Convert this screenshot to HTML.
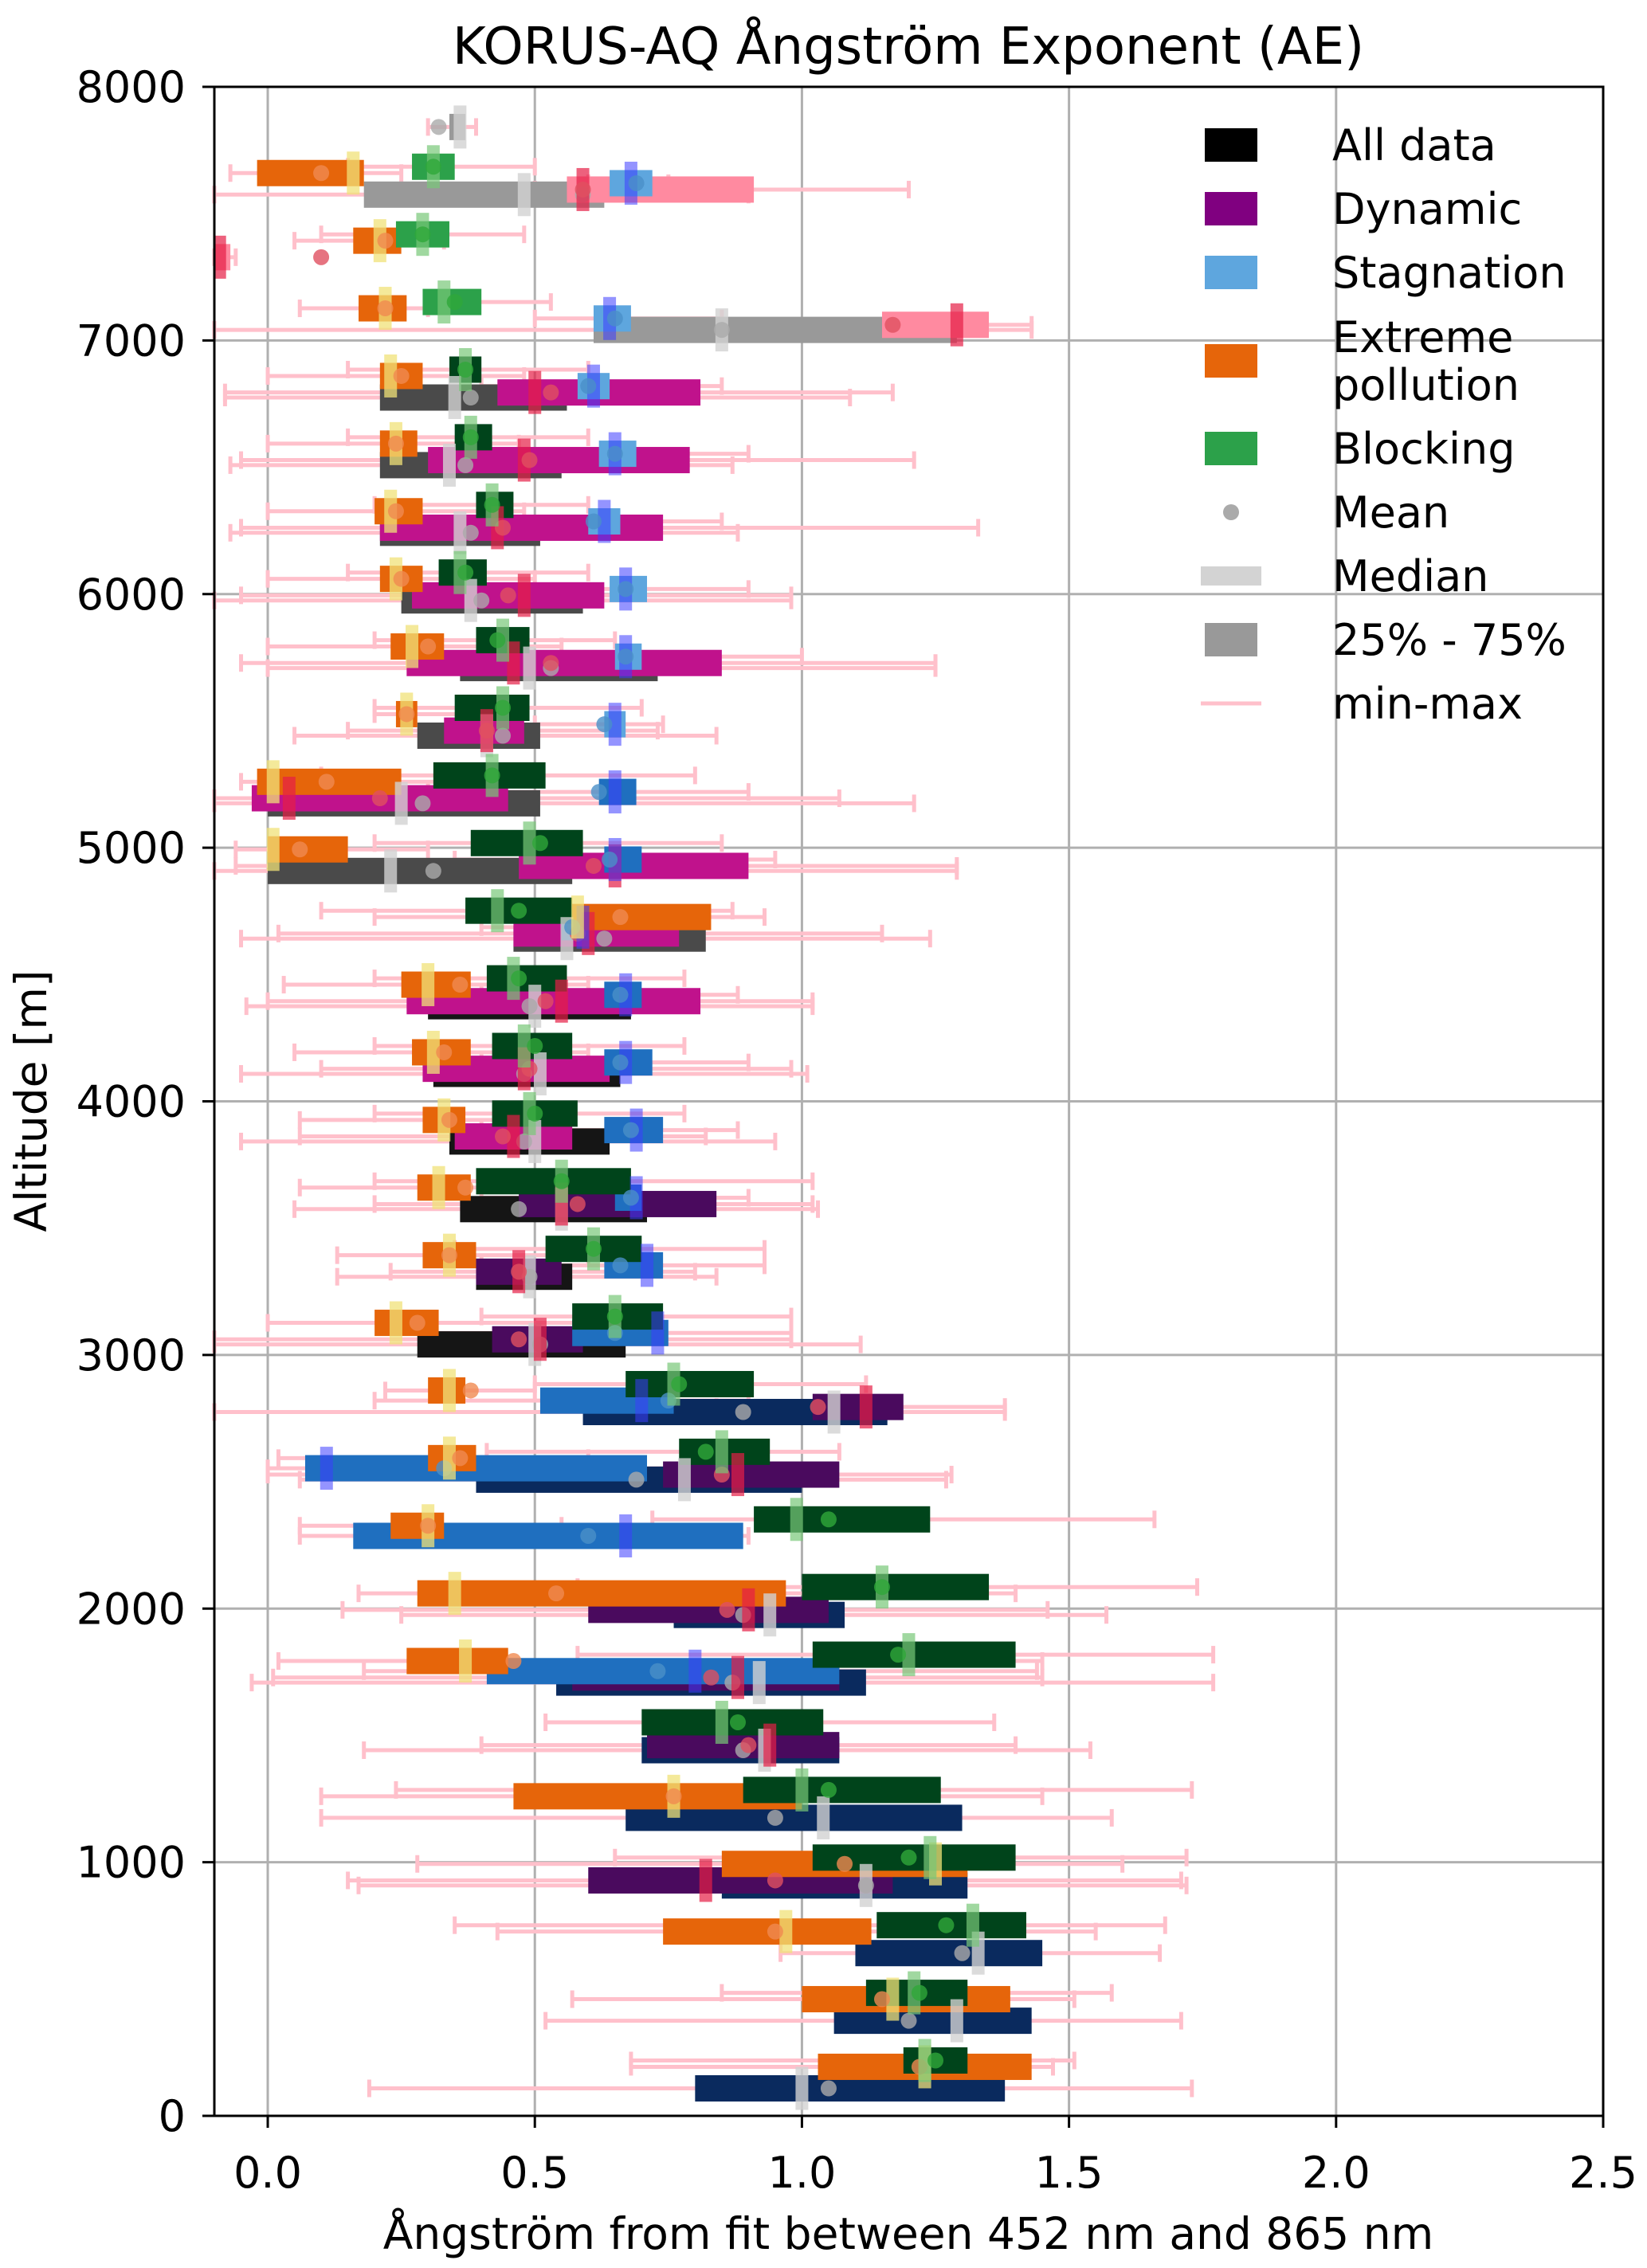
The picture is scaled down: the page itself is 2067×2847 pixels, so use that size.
<!DOCTYPE html>
<html><head><meta charset="utf-8"><style>
html,body{margin:0;padding:0;background:#fff;}
svg{display:block;font-family:"DejaVu Sans","Liberation Sans",sans-serif;}
</style></head><body>
<svg id="chart" width="2067" height="2847" viewBox="0 0 2067 2847" xmlns="http://www.w3.org/2000/svg">
<rect width="2067" height="2847" fill="#fff"/>
<text x="1140" y="80" font-size="64" text-anchor="middle">KORUS-AQ Ångström Exponent (AE)</text>
<g id="grid"></g>
<g id="marks"></g>
<g id="axes"></g>
<text x="1140" y="2823" font-size="55" text-anchor="middle">Ångström from fit between 452 nm and 865 nm</text>
<text transform="translate(58,1382) rotate(-90)" font-size="55" text-anchor="middle">Altitude [m]</text>
<g id="legend"></g>
</svg>
<script>
// Each row: [binIndex, q1, q3, median, mean, min, max]
const allData = [
[0,0.80,1.38,1.00,1.05,0.19,1.73],[1,1.06,1.43,1.29,1.20,0.52,1.71],[2,1.10,1.45,1.33,1.30,0.96,1.67],
[3,0.85,1.31,1.12,1.12,0.17,1.72],[4,0.67,1.30,1.04,0.95,0.10,1.58],[5,0.70,1.07,0.93,0.89,0.18,1.54],
[6,0.54,1.12,0.92,0.87,-0.03,1.77],[7,0.76,1.08,0.94,0.89,0.25,1.57],[9,0.39,1.00,0.78,0.69,0.06,1.27],
[10,0.59,1.16,1.06,0.89,-0.1,1.38],[11,0.28,0.67,0.50,0.51,-0.1,1.11],[12,0.39,0.57,0.49,0.49,0.13,0.84],
[13,0.36,0.71,0.55,0.47,0.05,1.03],[14,0.34,0.64,0.50,0.48,-0.05,0.95],[15,0.31,0.66,0.51,0.48,-0.05,1.01],
[16,0.30,0.68,0.50,0.49,-0.04,1.02],[17,0.46,0.82,0.56,0.63,-0.05,1.24],[18,0.00,0.57,0.23,0.31,-0.1,1.29],
[19,0.00,0.51,0.25,0.29,-0.1,1.21],[20,0.28,0.51,0.41,0.44,0.05,0.84],[21,0.36,0.73,0.49,0.53,0.00,1.25],
[22,0.25,0.59,0.38,0.40,-0.1,0.98],[23,0.21,0.51,0.36,0.38,-0.07,0.88],[24,0.21,0.55,0.34,0.37,-0.07,0.87],
[25,0.21,0.56,0.35,0.38,-0.08,1.09],[26,0.61,1.29,0.85,0.85,-0.1,1.43],[28,0.18,0.63,0.48,0.59,-0.1,0.90],
[29,0.34,0.37,0.36,0.32,0.30,0.39]];
const dynamicData = [
[3,0.60,1.17,0.82,0.95,0.15,1.71],[5,0.71,1.07,0.94,0.90,0.40,1.40],[6,0.57,1.07,0.88,0.83,0.01,1.45],
[7,0.60,1.05,0.90,0.86,0.14,1.46],[9,0.74,1.07,0.88,0.85,0.00,1.28],[10,1.02,1.19,1.12,1.03,0.84,1.38],
[11,0.42,0.59,0.51,0.47,-0.1,0.98],[12,0.39,0.55,0.47,0.47,0.23,0.80],[13,0.47,0.84,0.55,0.58,0.20,1.02],
[14,0.35,0.57,0.46,0.44,0.06,0.82],[15,0.29,0.64,0.48,0.49,0.10,0.98],[16,0.26,0.81,0.55,0.52,0.00,1.02],
[17,0.46,0.77,0.60,0.58,0.02,1.15],[18,0.47,0.90,0.65,0.61,-0.06,1.29],[19,-0.03,0.45,0.04,0.21,-0.1,1.07],
[20,0.33,0.48,0.41,0.41,0.15,0.73],[21,0.26,0.85,0.46,0.53,-0.05,1.25],[22,0.27,0.63,0.48,0.45,-0.05,0.98],
[23,0.21,0.74,0.43,0.44,-0.05,1.33],[24,0.30,0.79,0.48,0.49,-0.05,1.21],[25,0.43,0.81,0.50,0.53,-0.08,1.17],
[26,1.15,1.35,1.29,1.17,0.85,1.43],[27,-0.1,-0.07,-0.09,0.10,-0.1,-0.06],[28,0.56,0.91,0.59,0.59,0.50,1.20]];
const stagnationData = [
[6,0.41,1.07,0.80,0.73,0.18,1.44],[8,0.16,0.89,0.67,0.60,0.06,0.90],[9,0.07,0.71,0.11,0.33,0.00,0.90],
[10,0.51,0.76,0.70,0.75,0.20,0.90],[11,0.57,0.75,0.73,0.65,0.30,0.98],[12,0.63,0.74,0.71,0.66,0.40,0.93],
[13,0.65,0.70,0.69,0.68,0.40,0.90],[14,0.63,0.74,0.69,0.68,0.40,0.88],[15,0.63,0.72,0.67,0.66,0.40,0.90],
[16,0.63,0.70,0.67,0.66,0.40,0.88],[17,0.55,0.60,0.59,0.57,0.40,0.70],[18,0.63,0.70,0.65,0.64,0.35,0.95],
[19,0.62,0.69,0.65,0.62,0.30,0.90],[20,0.63,0.67,0.65,0.63,0.50,0.74],[21,0.65,0.70,0.67,0.67,0.40,1.00],
[22,0.64,0.71,0.67,0.67,0.40,0.90],[23,0.60,0.66,0.63,0.61,0.40,0.85],[24,0.62,0.69,0.65,0.65,0.40,0.90],
[25,0.58,0.64,0.61,0.60,0.40,0.85],[26,0.61,0.68,0.64,0.65,0.50,0.85],[28,0.64,0.72,0.68,0.69,0.60,0.75]];
const pollutionData = [
[0,1.03,1.43,1.23,1.22,0.68,1.47],[1,1.00,1.39,1.17,1.15,0.57,1.51],[2,0.74,1.13,0.97,0.95,0.43,1.55],
[3,0.85,1.31,1.25,1.08,0.28,1.60],[4,0.46,1.00,0.76,0.76,0.10,1.45],[6,0.26,0.45,0.37,0.46,0.02,1.45],
[7,0.28,0.97,0.35,0.54,0.17,1.40],[8,0.23,0.33,0.30,0.30,0.06,0.55],[9,0.30,0.39,0.34,0.36,0.02,0.60],
[10,0.30,0.37,0.34,0.38,0.22,0.50],[11,0.20,0.32,0.24,0.28,0.00,0.60],[12,0.29,0.39,0.34,0.34,0.13,0.60],
[13,0.28,0.38,0.32,0.37,0.06,0.60],[14,0.29,0.37,0.33,0.34,0.06,0.55],[15,0.27,0.38,0.31,0.33,0.05,0.60],
[16,0.25,0.38,0.30,0.36,0.03,0.60],[17,0.56,0.83,0.58,0.66,0.20,0.93],[18,0.00,0.15,0.01,0.06,-0.06,0.30],
[19,-0.02,0.25,0.01,0.11,-0.05,0.35],[20,0.24,0.28,0.26,0.26,0.20,0.38],[21,0.23,0.33,0.27,0.30,0.00,0.55],
[22,0.21,0.29,0.24,0.25,0.00,0.50],[23,0.20,0.29,0.23,0.24,0.00,0.48],[24,0.21,0.28,0.24,0.24,0.00,0.47],
[25,0.21,0.29,0.23,0.25,0.00,0.48],[26,0.17,0.26,0.22,0.22,0.06,0.30],[27,0.16,0.25,0.21,0.22,0.05,0.33],
[28,-0.02,0.18,0.16,0.10,-0.07,0.25]];
const blockingData = [
[0,1.19,1.31,1.23,1.25,0.68,1.51],[1,1.12,1.31,1.21,1.22,0.85,1.58],[2,1.14,1.42,1.32,1.27,0.35,1.68],
[3,1.02,1.40,1.24,1.20,0.65,1.72],[4,0.89,1.26,1.00,1.05,0.24,1.73],[5,0.70,1.04,0.85,0.88,0.52,1.36],
[6,1.02,1.40,1.20,1.18,0.58,1.77],[7,1.00,1.35,1.15,1.15,0.58,1.74],[8,0.91,1.24,0.99,1.05,0.72,1.66],
[9,0.77,0.94,0.85,0.82,0.41,1.07],[10,0.67,0.91,0.76,0.77,0.50,1.12],[11,0.57,0.74,0.65,0.65,0.40,0.98],
[12,0.52,0.70,0.61,0.61,0.35,0.93],[13,0.39,0.68,0.55,0.55,0.20,1.02],[14,0.42,0.58,0.49,0.50,0.20,0.78],
[15,0.42,0.57,0.48,0.50,0.20,0.78],[16,0.41,0.56,0.46,0.47,0.20,0.78],[17,0.37,0.57,0.43,0.47,0.10,0.87],
[18,0.38,0.59,0.49,0.51,0.20,0.85],[19,0.31,0.52,0.42,0.42,0.10,0.80],[20,0.35,0.49,0.44,0.44,0.20,0.70],
[21,0.39,0.49,0.44,0.43,0.20,0.65],[22,0.32,0.41,0.36,0.37,0.15,0.60],[23,0.39,0.46,0.42,0.42,0.20,0.60],
[24,0.35,0.42,0.38,0.38,0.15,0.60],[25,0.34,0.40,0.37,0.37,0.15,0.60],[26,0.29,0.40,0.33,0.35,0.30,0.53],
[27,0.24,0.34,0.29,0.29,0.10,0.48],[28,0.27,0.35,0.31,0.31,0.15,0.50]];
const xTicks = [0.0,0.5,1.0,1.5,2.0,2.5];
const xTickLabels = ["0.0","0.5","1.0","1.5","2.0","2.5"];
const yTicks = [0,1000,2000,3000,4000,5000,6000,7000,8000];
const yTickLabels = ["0","1000","2000","3000","4000","5000","6000","7000","8000"];
const nBins = 30, altMax = 8000;

const L=269,R=2012,T=109,B=2656;
const xMin=-0.1,xMax=2.5;
function xs(v){return L+(v-xMin)/(xMax-xMin)*(R-L);}
function ys(a){return B-a/altMax*(B-T);}
const NS="http://www.w3.org/2000/svg";
function mk(tag,attrs,parent){const e=document.createElementNS(NS,tag);for(const k in attrs)e.setAttribute(k,attrs[k]);parent.appendChild(e);return e;}
const grid=document.getElementById('grid'),marks=document.getElementById('marks'),axes=document.getElementById('axes'),leg=document.getElementById('legend');

xTicks.forEach((t,i)=>{
  const g=mk('line',{x1:xs(t),x2:xs(t),y1:T,y2:B,stroke:'#b0b0b0','stroke-width':3},grid);
  
  
  const tk=mk('line',{x1:xs(t),x2:xs(t),y1:B,y2:B+15,stroke:'#000','stroke-width':3},axes);
  
  
  const tl=mk('text',{x:xs(t),y:B+90,'font-size':54,'text-anchor':'middle'},axes);
  tl.textContent=xTickLabels[i];
  
  
});
yTicks.forEach((t,i)=>{
  const g=mk('line',{x1:L,x2:R,y1:ys(t),y2:ys(t),stroke:'#b0b0b0','stroke-width':3},grid);
  
  
  const tk=mk('line',{x1:L-15,x2:L,y1:ys(t),y2:ys(t),stroke:'#000','stroke-width':3},axes);
  
  
  const tl=mk('text',{x:L-36,y:ys(t)+19,'font-size':54,'text-anchor':'end'},axes);
  tl.textContent=yTickLabels[i];
  
  
});
const frame=mk('rect',{x:L,y:T,width:R-L,height:B-T,fill:'none',stroke:'#000','stroke-width':3},axes);



function binAlt(i){return (i+0.5)*altMax/nBins;}
function allColor(i){return i>=26?'#999999':(i>=17?'#4a4a4a':(i>=11?'#151515':'#0a2a5e'));}
function dynColor(i){return i>=26?'#ff8aa0':(i>=14?'#c0128c':'#4a0a5e');}
function stagColor(i){return i>=20?'#5ea6de':'#1f6fbf';}
function blockColor(i){return i>=26?'#2ca14a':'#00441b';}
const cats=[
 {name:'all',data:allData,off:-25,fill:allColor,med:'rgba(210,210,210,0.8)',mean:'#aaaaaa'},
 {name:'dynamic',data:dynamicData,off:-5,fill:dynColor,med:'rgba(230,30,70,0.7)',mean:'#e05060'},
 {name:'stagnation',data:stagnationData,off:20,fill:stagColor,med:'rgba(60,60,255,0.55)',mean:'#4a90c8'},
 {name:'pollution',data:pollutionData,off:60,fill:()=>'#e6650a',med:'rgba(240,225,120,0.75)',mean:'#f08a50'},
 {name:'blocking',data:blockingData,off:85,fill:blockColor,med:'rgba(120,200,120,0.7)',mean:'#2fa83a'}
];
const boxH=33, medW=16, medH=54, capH=22;
cats.forEach(c=>c.data.forEach(r=>{
  const y=ys(binAlt(r[0])+c.off);
  const l=mk('line',{x1:xs(r[5]),x2:xs(r[6]),y1:y,y2:y,stroke:'#ffc0cb','stroke-width':5},marks);
  
  
  [r[5],r[6]].forEach(v=>{
    const cp=mk('line',{x1:xs(v),x2:xs(v),y1:y-capH/2,y2:y+capH/2,stroke:'#ffc0cb','stroke-width':5},marks);
    
    
  });
}));
cats.forEach(c=>c.data.forEach(r=>{
  const y=ys(binAlt(r[0])+c.off);
  const b=mk('rect',{x:xs(r[1]),y:y-boxH/2,width:Math.max(3,xs(r[2])-xs(r[1])),height:boxH,fill:c.fill(r[0])},marks);
  
  
}));
cats.forEach(c=>c.data.forEach(r=>{
  const y=ys(binAlt(r[0])+c.off);
  const m=mk('rect',{x:xs(r[3])-medW/2,y:y-medH/2,width:medW,height:medH,fill:c.med},marks);
  
  
  const d=mk('circle',{cx:xs(r[4]),cy:y,r:10,fill:c.mean,'fill-opacity':0.8},marks);
  
  
}));

const lx=1512, tx=1672;
const items=[
 {t:['All data'],y:182,type:'patch',c:'#000'},
 {t:['Dynamic'],y:262,type:'patch',c:'#800080'},
 {t:['Stagnation'],y:342,type:'patch',c:'#5ea6de'},
 {t:['Extreme','pollution'],y:453,type:'patch',c:'#e6650a'},
 {t:['Blocking'],y:563,type:'patch',c:'#2ca14a'},
 {t:['Mean'],y:643,type:'dot',c:'#aaaaaa'},
 {t:['Median'],y:723,type:'line',c:'#d3d3d3'},
 {t:['25% - 75%'],y:803,type:'patch',c:'#999999'},
 {t:['min-max'],y:883,type:'thin',c:'#ffc0cb'}
];
items.forEach(it=>{
  let s;
  if(it.type==='patch') s=mk('rect',{x:lx,y:it.y-21,width:66,height:42,fill:it.c},leg);
  else if(it.type==='dot') s=mk('circle',{cx:lx+33,cy:it.y,r:10,fill:it.c},leg);
  else if(it.type==='line') s=mk('rect',{x:lx-5,y:it.y-12,width:76,height:24,fill:it.c},leg);
  else s=mk('line',{x1:lx-5,x2:lx+71,y1:it.y,y2:it.y,stroke:it.c,'stroke-width':5},leg);
  
  
  const n=it.t.length;
  it.t.forEach((line,k)=>{
    const tt=mk('text',{x:tx,y:it.y+19+(k-(n-1)/2)*60,'font-size':54},leg);
    tt.textContent=line;
    
    
  });
});
</script>
</body></html>
